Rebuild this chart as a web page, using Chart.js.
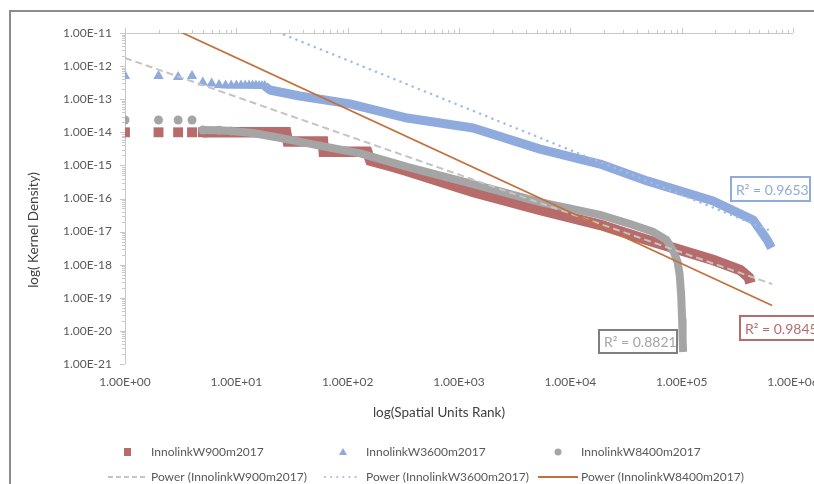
<!DOCTYPE html>
<html><head><meta charset="utf-8">
<script src="https://cdn.jsdelivr.net/npm/chart.js@4.4.1/dist/chart.umd.min.js"></script>
<style>html,body{margin:0;padding:0;background:#fff;overflow:hidden}#c{display:block}</style>
</head><body>
<canvas id="c" width="814" height="484"></canvas>
<script>
// ---- tick values ----
const xTickValues = [1, 10, 100, 1000, 10000, 100000, 1000000];
const yTickValues = [1e-21, 1e-20, 1e-19, 1e-18, 1e-17, 1e-16, 1e-15, 1e-14, 1e-13, 1e-12, 1e-11];

// ---- series: InnolinkW900m2017 ----
const rank900 = [1, 2, 3, 4, 5, 28, 29, 60, 61, 150, 160, 240, 342, 1340, 5350, 18500, 49000, 192000, 336000, 400000, 415000];
const dens900 = [1e-14, 1e-14, 1e-14, 1e-14, 1e-14, 1e-14, 5.3e-15, 5.3e-15, 2.6e-15, 2.6e-15, 1.4e-15, 9.6e-16, 6.8e-16, 1.57e-16, 4.5e-17, 1.6e-17, 5.6e-18, 1.39e-18, 6.9e-19, 4.2e-19, 2.8e-19];

// ---- series: InnolinkW3600m2017 ----
const rank3600 = [1, 2, 3, 4, 5, 6, 7, 8, 9, 10, 11, 12, 13, 14, 15, 16, 17, 18, 20, 37, 105, 342, 1340, 5350, 13000, 18500, 49000, 192000, 439000, 586000, 640000];
const dens3600 = [5.0e-13, 5.0e-13, 4.7e-13, 5.0e-13, 3.2e-13, 3.0e-13, 2.7e-13, 2.6e-13, 2.6e-13, 2.6e-13, 2.6e-13, 2.6e-13, 2.6e-13, 2.6e-13, 2.6e-13, 2.5e-13, 2.5e-13, 2.5e-13, 1.9e-13, 1.25e-13, 7.2e-14, 2.7e-14, 1.35e-14, 3.1e-15, 1.46e-15, 1.1e-15, 3.4e-16, 8.4e-17, 2.24e-17, 5.6e-18, 3.2e-18];

// ---- series: InnolinkW8400m2017 ----
const rank8400 = [1, 2, 3, 4, 5, 7, 9, 14, 25, 43, 74, 130, 342, 1340, 5350, 18500, 34400, 56000, 73000, 85000, 92000, 96000, 99000, 101000, 102000, 103000];
const dens8400 = [2.35e-14, 2.35e-14, 2.35e-14, 2.35e-14, 1.17e-14, 1.15e-14, 1.1e-14, 9.5e-15, 6.7e-15, 4.7e-15, 3.3e-15, 2.3e-15, 9.0e-16, 2.7e-16, 7.8e-17, 3.2e-17, 1.7e-17, 9.7e-18, 5.6e-18, 2.4e-18, 1.2e-18, 4.9e-19, 1.2e-19, 2.1e-20, 5.3e-21, 2.3e-21];

// ---- power trendlines (end points) ----
const trendRanks = [1, 650000];
const trend900 = [1.76e-12, 2.6e-19];
const trend3600 = [7.7e-10, 1.01e-17];
const trend8400 = [6.4e-11, 5.85e-20];

// ---- labels ----
const seriesNames = ['InnolinkW900m2017', 'InnolinkW3600m2017', 'InnolinkW8400m2017'];
const trendNames = ['Power (InnolinkW900m2017)', 'Power (InnolinkW3600m2017)', 'Power (InnolinkW8400m2017)'];
const rSquared = ['R\u00B2 = 0.9845', 'R\u00B2 = 0.9653', 'R\u00B2 = 0.8821'];
const xTitle = 'log(Spatial Units Rank)';
const yTitle = 'log( Kernel Density)';

const RED = '#B86B6B', BLUE = '#8FAADC', GRAY = '#A5A5A5', ORANGE = '#C4703A', DASHGRAY = '#C4C4C4', DOTBLUE = '#A3BBE4';
const FONT = 'Lato, "Open Sans", sans-serif';
const TXT = '#595959';

const pts = (xs, ys) => xs.map((x, i) => ({x, y: ys[i]}));
const fmt = v => {
  const e = Math.floor(Math.log10(v) + 1e-9);
  const m = v / Math.pow(10, e);
  return m.toFixed(2) + 'E' + (e < 0 ? '-' : '+') + String(Math.abs(e)).padStart(2, '0');
};
const hidden = 'rgba(0,0,0,0)';

const decor = {
  id: 'decor',
  beforeDatasetsDraw(chart) {
    const {ctx, chartArea: a, scales: {x, y}} = chart;
    ctx.save();
    ctx.strokeStyle = '#C8C8C8'; ctx.lineWidth = 1;
    ctx.beginPath();
    ctx.moveTo(a.left + 0.5, a.top); ctx.lineTo(a.left + 0.5, a.bottom);
    ctx.moveTo(a.left, a.top + 0.5); ctx.lineTo(a.right, a.top + 0.5);
    for (let i = 0; i < xTickValues.length; i++) {
      const d = xTickValues[i];
      const px = Math.round(x.getPixelForValue(d)) + 0.5;
      ctx.moveTo(px, a.top); ctx.lineTo(px, a.top - 5);
      if (i < xTickValues.length - 1) for (let m = 2; m <= 9; m++) {
        const q = Math.round(x.getPixelForValue(m * d)) + 0.5;
        ctx.moveTo(q, a.top); ctx.lineTo(q, a.top - 3);
      }
    }
    for (let i = 0; i < yTickValues.length; i++) {
      const d = yTickValues[i];
      const py = Math.round(y.getPixelForValue(d)) + 0.5;
      ctx.moveTo(a.left, py); ctx.lineTo(a.left - 5, py);
      if (i < yTickValues.length - 1) for (let m = 2; m <= 9; m++) {
        const q = Math.round(y.getPixelForValue(m * d)) + 0.5;
        ctx.moveTo(a.left, q); ctx.lineTo(a.left - 3, q);
      }
    }
    ctx.stroke();
    ctx.restore();
  },
  afterDraw(chart) {
    const ctx = chart.ctx;
    ctx.save();
    // outer frame
    ctx.strokeStyle = '#8C8C8C'; ctx.lineWidth = 2;
    ctx.beginPath(); ctx.moveTo(10, 490); ctx.lineTo(10, 11); ctx.lineTo(820, 11); ctx.stroke();
    // axis titles
    ctx.fillStyle = '#404040'; ctx.font = '13.5px ' + FONT;
    ctx.textAlign = 'center'; ctx.textBaseline = 'middle';
    ctx.fillText(xTitle, 439, 413);
    ctx.save(); ctx.translate(34, 230); ctx.rotate(-Math.PI / 2); ctx.fillText(yTitle, 0, 0); ctx.restore();
    // R² boxes
    const boxes = [
      {t: rSquared[1], c: BLUE, x: 731, y: 177, w: 79, h: 24},
      {t: rSquared[0], c: RED, x: 740, y: 316, w: 90, h: 24},
      {t: rSquared[2], c: '#7F7F7F', tc: GRAY, x: 599, y: 330, w: 78, h: 23}
    ];
    ctx.font = '14px ' + FONT; ctx.textAlign = 'left';
    for (const b of boxes) {
      ctx.fillStyle = '#fff'; ctx.fillRect(b.x, b.y, b.w, b.h);
      ctx.strokeStyle = b.c; ctx.lineWidth = 2; ctx.strokeRect(b.x, b.y, b.w, b.h);
      ctx.fillStyle = b.tc || b.c; ctx.fillText(b.t, b.x + 5, b.y + b.h / 2 + 1);
    }
    // legend
    ctx.font = '12px ' + FONT; ctx.fillStyle = TXT; ctx.textBaseline = 'middle';
    const cols = [108, 323, 538], r1 = 452, r2 = 477;
    ctx.fillStyle = RED; ctx.fillRect(cols[0] + 16, r1 - 4, 7, 8);
    ctx.fillStyle = BLUE; ctx.beginPath(); ctx.moveTo(cols[1] + 20, r1 - 4); ctx.lineTo(cols[1] + 24, r1 + 3); ctx.lineTo(cols[1] + 16, r1 + 3); ctx.closePath(); ctx.fill();
    ctx.fillStyle = GRAY; ctx.beginPath(); ctx.arc(cols[2] + 20, r1, 3.5, 0, Math.PI * 2); ctx.fill();
    ctx.lineWidth = 2;
    ctx.strokeStyle = DASHGRAY; ctx.setLineDash([5, 3]);
    ctx.beginPath(); ctx.moveTo(cols[0], r2); ctx.lineTo(cols[0] + 40, r2); ctx.stroke();
    ctx.strokeStyle = DOTBLUE; ctx.lineCap = 'round'; ctx.setLineDash([0.1, 6]);
    ctx.beginPath(); ctx.moveTo(cols[1] + 2, r2); ctx.lineTo(cols[1] + 38, r2); ctx.stroke();
    ctx.setLineDash([]); ctx.lineCap = 'butt'; ctx.strokeStyle = ORANGE;
    ctx.beginPath(); ctx.moveTo(cols[2], r2); ctx.lineTo(cols[2] + 40, r2); ctx.stroke();
    ctx.fillStyle = TXT;
    for (let i = 0; i < 3; i++) {
      ctx.fillText(seriesNames[i], cols[i] + 43, r1);
      ctx.fillText(trendNames[i], cols[i] + 43, r2);
    }
    ctx.restore();
  }
};

new Chart(document.getElementById('c'), {
  type: 'scatter',
  data: {
    datasets: [
      {label: trendNames[2], data: pts(trendRanks, trend8400), showLine: true, borderColor: ORANGE, borderWidth: 1.75, pointRadius: 0, order: 0},
      {label: trendNames[1], data: pts(trendRanks, trend3600), showLine: true, borderColor: DOTBLUE, borderWidth: 2.5, borderDash: [0.1, 6.5], borderCapStyle: 'round', pointRadius: 0, order: 1},
      {label: trendNames[0], data: pts(trendRanks, trend900), showLine: true, borderColor: DASHGRAY, borderWidth: 2, borderDash: [7, 4], pointRadius: 0, order: 2},
      {label: seriesNames[2], data: pts(rank8400, dens8400), showLine: true, borderColor: GRAY, borderWidth: 8, borderJoinStyle: 'round',
        backgroundColor: GRAY, pointBackgroundColor: GRAY, pointBorderWidth: 0, pointStyle: 'circle',
        pointRadius: c => c.dataIndex <= 6 ? 4.5 : 0,
        segment: {borderColor: c => c.p1DataIndex <= 4 ? hidden : undefined}, order: 3},
      {label: seriesNames[1], data: pts(rank3600, dens3600), showLine: true, borderColor: BLUE, borderWidth: 9, borderJoinStyle: 'round',
        backgroundColor: BLUE, pointBackgroundColor: BLUE, pointBorderWidth: 0, pointStyle: 'triangle',
        pointRadius: c => c.dataIndex <= 17 ? 6 : 0,
        segment: {borderColor: c => c.p1DataIndex <= 17 ? hidden : undefined}, order: 4},
      {label: seriesNames[0], data: pts(rank900, dens900), showLine: true, borderColor: RED, borderWidth: 10.5, borderJoinStyle: 'miter',
        backgroundColor: RED, pointBackgroundColor: RED, pointBorderWidth: 0, pointStyle: 'rect',
        pointRadius: c => c.dataIndex <= 4 ? 7 : 0,
        segment: {borderColor: c => c.p1DataIndex <= 4 ? hidden : undefined}, order: 5}
    ]
  },
  options: {
    responsive: false, animation: false, events: [], devicePixelRatio: 1,
    layout: {padding: {left: 0, top: 33, right: 21, bottom: 0}},
    plugins: {legend: {display: false}, tooltip: {enabled: false}},
    scales: {
      x: {
        type: 'logarithmic', min: 1, max: 1000000, position: 'bottom',
        grid: {display: false, drawTicks: false}, border: {display: false},
        afterBuildTicks: s => { s.ticks = xTickValues.map(v => ({value: v})); },
        afterFit: s => { s.height = 120; s.paddingLeft = 0; s.paddingRight = 0; },
        ticks: {autoSkip: false, maxRotation: 0, padding: 11, color: TXT, font: {family: FONT, size: 12}, callback: v => fmt(v)}
      },
      y: {
        type: 'logarithmic', min: 1e-21, max: 1e-11,
        grid: {display: false, drawTicks: false}, border: {display: false},
        afterBuildTicks: s => { s.ticks = yTickValues.map(v => ({value: v})); },
        afterFit: s => { s.width = 125; s.paddingTop = 0; s.paddingBottom = 0; },
        ticks: {autoSkip: false, padding: 13, color: TXT, font: {family: FONT, size: 12}, callback: v => fmt(v)}
      }
    }
  },
  plugins: [decor]
});
</script>
</body></html>
